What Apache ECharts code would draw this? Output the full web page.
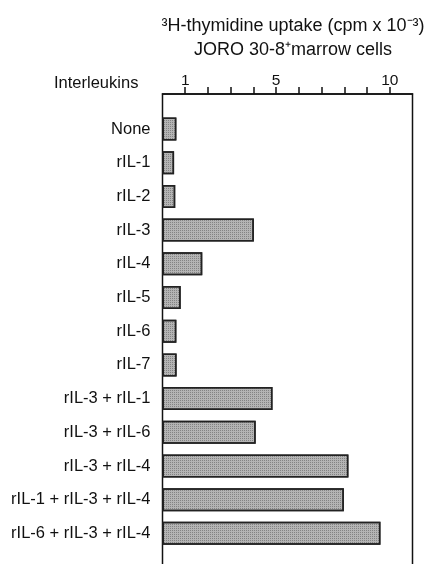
<!DOCTYPE html>
<html>
<head>
<meta charset="utf-8">
<script src="https://cdn.jsdelivr.net/npm/echarts@6/dist/echarts.min.js"></script>
<style>
html,body{margin:0;padding:0;background:#fff;}
#c{width:430px;height:564px;}
</style>
</head>
<body>
<div id="c"></div>
<script>
const categories = ['None','rIL-1','rIL-2','rIL-3','rIL-4','rIL-5','rIL-6','rIL-7',
  'rIL-3 + rIL-1','rIL-3 + rIL-6','rIL-3 + rIL-4','rIL-1 + rIL-3 + rIL-4','rIL-6 + rIL-3 + rIL-4'];
const uptake = [0.61,0.51,0.56,4.02,1.75,0.80,0.61,0.62,4.84,4.10,8.18,7.98,9.59];
const tickValues = [1,2,3,4,5,6,7,8,9,10];
const tickLabels = [1,5,10];
const axisTitle = ['³H-thymidine uptake (cpm x 10⁻³)','JORO 30-8⁺marrow cells'];
const rowHeader = 'Interleukins';

const FONT = 'Liberation Sans';
const INK = '#111';

const chart = echarts.init(document.getElementById('c'), null, {renderer:'canvas'});
chart.setOption({
  backgroundColor:'#fff',
  animation:false,
  title:[
    {text:axisTitle.join('\n'), left:288, textAlign:'center', top:9,
     textStyle:{fontFamily:FONT,fontSize:18,fontWeight:'normal',color:INK,lineHeight:24}},
    {text:rowHeader, left:49, top:70,
     textStyle:{fontFamily:FONT,fontSize:16.5,fontWeight:'normal',color:INK}}
  ],
  grid:[
    {left:162.5, right:17.5, top:94, bottom:-30, show:true, borderColor:INK, borderWidth:1.5,
     backgroundColor:'transparent', outerBoundsMode:'none', containLabel:false},
    {left:162.5, right:17.5, top:112.2, bottom:13.8, outerBoundsMode:'none', containLabel:false}
  ],
  xAxis:[
    {gridIndex:0, type:'value', position:'top', min:0, max:11, interval:1,
     axisLine:{show:true, onZero:false, lineStyle:{color:INK,width:1.5}},
     axisTick:{show:true, length:7, inside:false, customValues:tickValues, lineStyle:{color:INK,width:1.5}},
     splitLine:{show:false},
     axisLabel:{show:true, margin:5, fontFamily:FONT, fontSize:15.5, color:INK, customValues:tickLabels,
       formatter:function(v){return tickLabels.indexOf(v)>=0 ? String(v) : '';}}},
    {gridIndex:1, type:'value', min:0, max:11, show:false,
     axisLine:{show:false}, axisTick:{show:false}, axisLabel:{show:false}, splitLine:{show:false}}
  ],
  yAxis:[
    {gridIndex:0, type:'value', min:0, max:1, show:false,
     axisLine:{show:false}, axisTick:{show:false}, axisLabel:{show:false}, splitLine:{show:false}},
    {gridIndex:1, type:'category', inverse:true, data:categories,
     axisLine:{show:false}, axisTick:{show:false},
     axisLabel:{margin:12, fontFamily:FONT, fontSize:16.5, color:INK}}
  ],
  series:[{
    type:'bar', xAxisIndex:1, yAxisIndex:1, data:uptake, barWidth:23,
    itemStyle:{color:'#b4b4b4', borderColor:'#222', borderWidth:1.5,
      decal:{symbol:'rect', symbolSize:1, dashArrayX:[1,1], dashArrayY:[1,1], color:'rgba(70,70,70,0.45)', rotation:0}}
  }]
});
</script>
</body>
</html>
